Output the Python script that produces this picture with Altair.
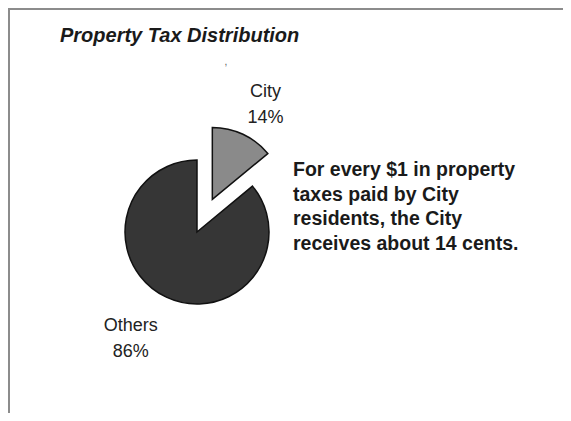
import math
import altair as alt
import pandas as pd

# ---- data ----
categories = ["City", "Others"]
shares = [14, 86]
slice_colors = ["#8a8a8a", "#363636"]
title_text = "Property Tax Distribution"
note_lines = [
    "For every $1 in property",
    "taxes paid by City",
    "residents, the City",
    "receives about 14 cents.",
]

starts, ends, acc = [], [], 0
for s in shares:
    starts.append(acc)
    acc += s
    ends.append(acc)
df = pd.DataFrame({
    "category": categories,
    "share": shares,
    "start": starts,
    "end": ends,
    "mid": [(a + b) / 2 for a, b in zip(starts, ends)],
    "label": [f"{c}\n{s}%" for c, s in zip(categories, shares)],
})

FONT = "Liberation Sans"
W, H = 555, 405
tscale = alt.Scale(domain=[0, 100], range=[0, 2 * math.pi])
cscale = alt.Scale(domain=categories, range=slice_colors)

# pie centres (chart pixels)
cx, cy, R = 189, 224, 72
explode = 36
mid_city = (shares[0] / 2) / 100 * 2 * math.pi
ccx = cx + explode * math.sin(mid_city)
ccy = cy - explode * math.cos(mid_city)

base = alt.Chart(df)


def arc_layer(cat, x, y):
    return base.transform_filter(alt.datum.category == cat).mark_arc(
        outerRadius=R, stroke="#111111", strokeWidth=1.5, strokeJoin="miter"
    ).encode(
        theta=alt.Theta("start:Q", scale=tscale),
        theta2="end:Q",
        color=alt.Color("category:N", scale=cscale, legend=None),
        x=alt.value(x),
        y=alt.value(y),
    )


def label_layer(cat, x, y, r, dx, dy):
    return base.transform_filter(alt.datum.category == cat).mark_text(
        font=FONT, fontSize=18, color="#222222", lineBreak="\n",
        lineHeight=26, align="center", baseline="middle", dx=dx, dy=dy,
    ).encode(
        theta=alt.Theta("mid:Q", scale=tscale),
        radius=alt.value(r),
        text="label:N",
        x=alt.value(x),
        y=alt.value(y),
    )


frame_df = pd.DataFrame({"k": [0]})
frame = alt.Chart(frame_df)
top_line = frame.mark_rule(color="#8c8c8c", strokeWidth=2).encode(
    x=alt.value(0), x2=alt.value(W + 8), y=alt.value(1)
)
left_line = frame.mark_rule(color="#8c8c8c", strokeWidth=2).encode(
    x=alt.value(1), y=alt.value(0), y2=alt.value(H + 8)
)

title = frame.mark_text(
    font=FONT, fontSize=20, fontWeight="bold", fontStyle="italic",
    color="#1a1a1a", align="left", baseline="alphabetic",
).encode(x=alt.value(52), y=alt.value(34), text=alt.value(title_text))

stray = frame.mark_text(
    font=FONT, fontSize=10, color="#555555", align="center",
).encode(x=alt.value(218), y=alt.value(54), text=alt.value(","))

note = frame.mark_text(
    font=FONT, fontSize=19.5, fontWeight="bold", color="#1a1a1a",
    align="left", baseline="alphabetic", lineHeight=24.5,
).encode(x=alt.value(285), y=alt.value(168), text=alt.value(note_lines))

chart = alt.layer(
    top_line,
    left_line,
    arc_layer("Others", cx, cy),
    arc_layer("City", ccx, ccy),
    label_layer("City", ccx, ccy, 111, 6, -7),
    label_layer("Others", cx, cy, 118, -16, -13),
    title,
    stray,
    note,
).properties(
    width=W, height=H, padding=0,
    autosize=alt.AutoSizeParams(type="none"),
).configure_view(stroke=None)

chart.save("out.html", embed_options={"renderer": "svg", "actions": False})
